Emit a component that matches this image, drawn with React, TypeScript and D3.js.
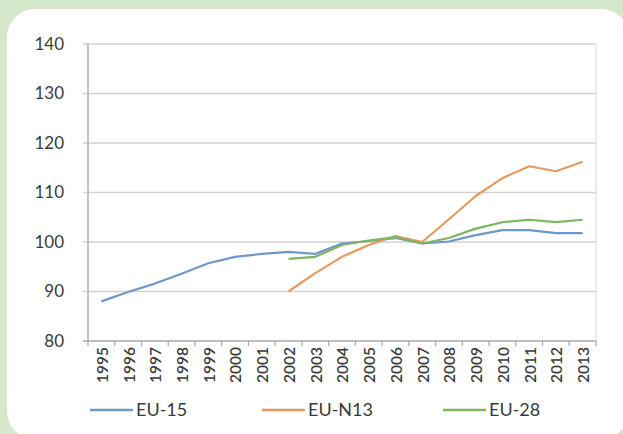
import React from "react";
import * as d3 from "d3";

const years = ["1995","1996","1997","1998","1999","2000","2001","2002","2003","2004","2005","2006","2007","2008","2009","2010","2011","2012","2013"];
const eu15 = [88, 89.9, 91.6, 93.6, 95.7, 97, 97.6, 98, 97.6, 99.7, 100.2, 100.8, 99.7, 100.1, 101.4, 102.4, 102.4, 101.8, 101.8];
const euN13: (number | null)[] = [null, null, null, null, null, null, null, 90, 93.7, 97, 99.4, 101.2, 100, 104.6, 109.3, 112.9, 115.3, 114.3, 116.2];
const eu28: (number | null)[] = [null, null, null, null, null, null, null, 96.6, 97, 99.4, 100.3, 101, 99.7, 100.8, 102.7, 104, 104.5, 104, 104.5];
const yTicks = [80, 90, 100, 110, 120, 130, 140];
const seriesNames = ["EU-15", "EU-N13", "EU-28"];
const seriesColors = ["#6f97c9", "#e8995a", "#7fb461"];

export default function App() {
  const W = 623, H = 434;
  const left = 88, right = 596, top = 44, bottom = 341;
  const x = d3.scaleBand().domain(years).range([left, right]);
  const y = d3.scaleLinear().domain([80, 140]).range([bottom, top]);
  const all = [eu15, euN13, eu28];
  const line = d3.line<number | null>()
    .defined(d => d != null)
    .x((_, i) => (x(years[i]) as number) + x.bandwidth() / 2)
    .y(d => y(d as number));
  const font = "Lato, 'Liberation Sans', sans-serif";
  const legendX = [90, 262, 443];
  return (
    <svg width={W} height={H} style={{ position: "absolute", left: 0, top: 0 }}>
      <rect x={0} y={0} width={W} height={H} fill="#d5e8cb" />
      <rect x={7} y={9} width={622} height={430} rx={28} ry={28} fill="#ffffff" />
      {yTicks.map(t => (
        <g key={t}>
          <line x1={left - 5} x2={right} y1={y(t)} y2={y(t)} stroke={t === 80 ? "#a8a8a8" : "#d2d2d2"} strokeWidth={1.5} />
          <text x={64} y={y(t)} dy="0.35em" textAnchor="end" fontFamily={font} fontSize={17} fill="#3a3a3a">{t}</text>
        </g>
      ))}
      <line x1={left} x2={left} y1={top} y2={bottom} stroke="#b0b0b0" strokeWidth={1.5} />
      <line x1={right} x2={right} y1={top} y2={bottom} stroke="#d8d8d8" strokeWidth={1} />
      {years.map((yr, i) => (
        <line key={"t" + yr} x1={(x(yr) as number)} x2={(x(yr) as number)} y1={bottom} y2={bottom + 5} stroke="#a8a8a8" strokeWidth={1.2} />
      ))}
      <line x1={right} x2={right} y1={bottom} y2={bottom + 5} stroke="#a8a8a8" strokeWidth={1.2} />
      {years.map(yr => {
        const cx = (x(yr) as number) + x.bandwidth() / 2;
        return (
          <text key={yr} transform={`translate(${cx + 1},${347}) rotate(-90)`} textAnchor="end" dy="0.35em" fontFamily={font} fontSize={15.5} fontWeight={600} fill="#3a3a3a">{yr}</text>
        );
      })}
      {all.map((s, k) => (
        <path key={k} d={line(s) || ""} fill="none" stroke={seriesColors[k]} strokeWidth={2.2} strokeLinejoin="round" />
      ))}
      {seriesNames.map((n, k) => (
        <g key={n}>
          <line x1={legendX[k]} x2={legendX[k] + 43} y1={410} y2={410} stroke={seriesColors[k]} strokeWidth={2.5} />
          <text x={legendX[k] + 46} y={410} dy="0.35em" fontFamily={font} fontSize={18} fill="#3a3a3a">{n}</text>
        </g>
      ))}
    </svg>
  );
}
